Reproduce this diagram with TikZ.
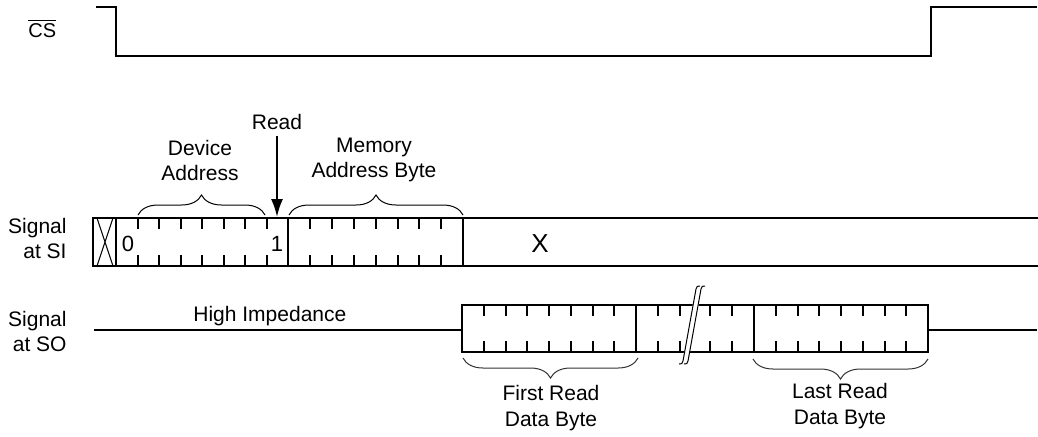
\documentclass[tikz,border=0pt]{standalone}
\usepackage{fontspec}
\setmainfont{Liberation Sans}
\usetikzlibrary{decorations.pathreplacing,arrows.meta}

\tikzset{
  wave/.style={line width=1pt},
  bitmark/.style={line width=1pt},
  brc/.style={decorate,decoration={brace,amplitude=10pt},line width=0.5pt},
  brcdown/.style={decorate,decoration={brace,mirror,amplitude=10pt},line width=0.5pt,black!80},
  lbl/.style={inner sep=0pt,font=\fontsize{10.5}{12.5}\selectfont,align=center},
  bitval/.style={inner sep=0pt,font=\fontsize{11}{13}\selectfont,anchor=base},
}

\begin{document}
\begin{tikzpicture}[x=0.5pt,y=-0.5pt]
\useasboundingbox (0,0) rectangle (1038,436);

% CHIP SELECT

\node[lbl,font=\fontsize{10}{12}\selectfont,anchor=base west] (cs) at (28,37) {$\overline{\hbox{CS}}$};
\draw[wave] (96,7) -- (116,7) -- (116,56) -- (931,56) -- (931,7) -- (1037,7);

% SIGNAL AT SI

\node[lbl,anchor=east,align=right] (si) at (67,238) {Signal\\at SI};
\draw[wave] (1038,218) -- (93,218) -- (93,266) -- (1038,266);
\draw[wave] (116,218) -- (116,266) (288,218) -- (288,266) (463,218) -- (463,266);
\draw[line width=0.5pt] (97,218) -- (113,266) (113,218) -- (97,266);
\foreach \i in {1,...,7} {
  \draw[bitmark] ({116+21.5*\i},218) -- +(0,11) ({116+21.5*\i},266) -- +(0,-11);
  \draw[bitmark] ({288+21.9*\i},218) -- +(0,11) ({288+21.9*\i},266) -- +(0,-11);
}
\node[bitval] (bit0) at (128,251) {0};
\node[bitval] (bit1) at (277,251) {1};
\node[bitval,font=\fontsize{13}{15}\selectfont] (dontcare) at (540,252) {X};

\draw[brc] (138,215) -- (265,215);
\draw[brc] (289,215) -- (463,215);
\node[lbl] (devaddr) at (200,160) {Device\\Address};
\node[lbl] (memaddr) at (374,160) {Memory\\Address Byte};
\node[lbl,anchor=base] (read) at (277,129) {Read};
\coordinate (readtip) at (277,217);
\draw[line width=1pt,-{Latex[length=9pt,width=6pt]}] ([yshift=-3pt]read.south) -- (readtip);

% SIGNAL AT SO

\node[lbl,anchor=east,align=right] (so) at (67,331) {Signal\\at SO};
\node[lbl,anchor=base west] (highz) at (193,321) {High Impedance};
\draw[wave] (94,330) -- (462,330) (928,330) -- (1037,330);
\draw[wave] (462,305) rectangle (928,352);
\draw[wave] (636,305) -- (636,352) (754,305) -- (754,352);
\foreach \i in {1,...,7} {
  \draw[bitmark] ({462+21.75*\i},305) -- +(0,11) ({462+21.75*\i},352) -- +(0,-11);
  \draw[bitmark] ({754+21.75*\i},305) -- +(0,11) ({754+21.75*\i},352) -- +(0,-11);
}
\foreach \x in {658,680,710,732}
  \draw[bitmark] (\x,305) -- +(0,11) (\x,352) -- +(0,-11);

% break in the byte stream
\fill[white] (682,363) -- (696,287) -- (702,287) -- (688,363) -- cycle;
\draw[line width=0.5pt] (679,364) .. controls (682,364) .. (683,361) -- (696,289) .. controls (697,286) .. (700,286);
\draw[line width=0.5pt] (684,364) .. controls (687,364) .. (688,361) -- (701,289) .. controls (702,286) .. (705,286);

\draw[brcdown] (463,358) -- (638,358);
\draw[brcdown] (753,359) -- (928,359);
\node[lbl,font=\fontsize{10.5}{13.25}\selectfont] (firstbyte) at (551,408) {First Read\\Data Byte};
\node[lbl,font=\fontsize{10.5}{13.25}\selectfont] (lastbyte) at (840,406) {Last Read\\Data Byte};

\end{tikzpicture}
\end{document}
